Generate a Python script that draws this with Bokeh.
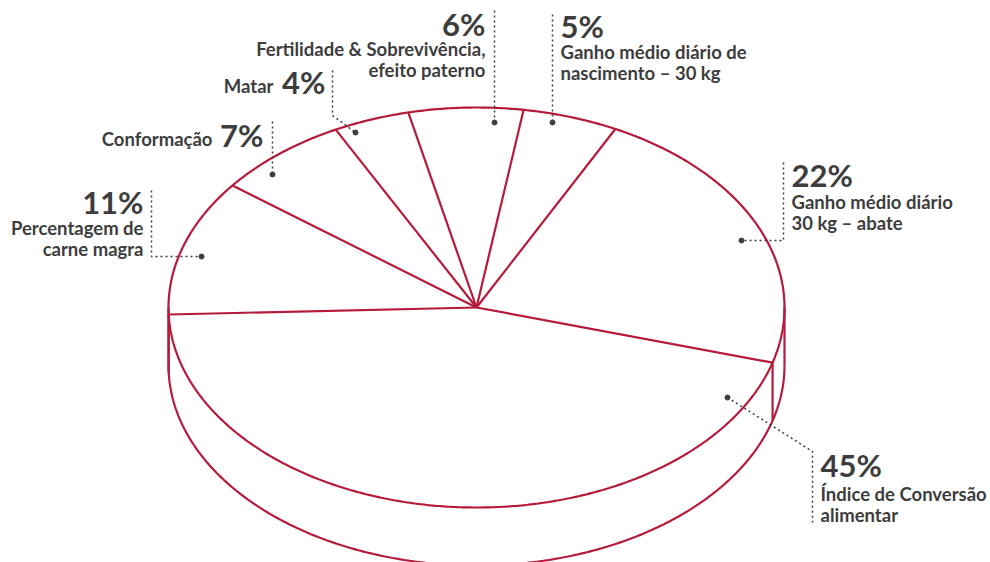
import numpy as np
from bokeh.plotting import figure
from bokeh.models import Range1d
from bokeh.core.properties import value
from bokeh.embed import file_html
from bokeh.resources import INLINE

# ---- data (slices in drawing order, counter-clockwise) ----
pct_labels = ["22%", "5%", "6%", "4%", "7%", "11%", "45%"]
shares = [22, 5, 6, 4, 7, 11, 45]
label_lines = [
    ["Ganho médio diário", "30 kg – abate"],
    ["Ganho médio diário de", "nascimento – 30 kg"],
    ["Fertilidade & Sobrevivência,", "efeito paterno"],
    ["Matar"],
    ["Conformação"],
    ["Percentagem de", "carne magra"],
    ["Índice de Conversão", "alimentar"],
]

# ---- layout / style ----
W, H = 990, 562
CX, CY = 476, 307          # pie centre (page px)
RX, RY = 308, 200          # ellipse semi-axes
DEPTH = 58                 # side wall
START = -16.0              # degrees
RED = "#B61A3A"
INK = "#3d3d3d"
FONT = value("Lato")
PCT_SIZE = "31px"
TXT_SIZE = "18.5px"
PCT_SHIFT = -12            # baseline correction for the renderer
TXT_SHIFT = -8

# label layout: pct position/alignment, text x and baselines, leader polyline, dot position
layout = [
    dict(px=791, py=186, align="left", tx=791, ty=[209, 230],
         leader=[(783, 162), (783, 240), (741, 240)], dot=(741, 240)),
    dict(px=560, py=37, align="left", tx=560, ty=[59, 80],
         leader=[(552, 14), (552, 122)], dot=(552, 122)),
    dict(px=485, py=35, align="right", tx=485, ty=[56, 77],
         leader=[(494, 10), (494, 122)], dot=(494, 122)),
    dict(px=325, py=93, align="right", tx=273, ty=[93],
         leader=[(332, 70), (332, 115), (355, 132)], dot=(355, 132)),
    dict(px=263, py=146, align="right", tx=212, ty=[146],
         leader=[(272, 121), (272, 174)], dot=(272, 174)),
    dict(px=143, py=213, align="right", tx=143, ty=[235, 256],
         leader=[(151, 190), (151, 256), (201, 256)], dot=(201, 256)),
    dict(px=820, py=476, align="left", tx=820, ty=[501, 522],
         leader=[(727, 397), (812, 451), (812, 522)], dot=(727, 397)),
]

p = figure(width=W, height=H, output_backend="svg", toolbar_location=None,
           x_range=Range1d(0, W), y_range=Range1d(H, 0),
           min_border=0)
p.axis.visible = False
p.grid.visible = False
p.outline_line_color = None
p.background_fill_color = "white"
p.border_fill_color = "white"


def pt(t_deg, dy=0.0):
    t = np.radians(t_deg)
    return CX + RX * np.cos(t), CY - RY * np.sin(t) + dy


# slice boundaries from the data
total = float(sum(shares))
bounds = [START]
for s in shares:
    bounds.append(bounds[-1] + 360.0 * s / total)

# top ellipse
tt = np.linspace(0, 360, 721)
ex, ey = pt(tt)
p.line(ex, ey, line_color=RED, line_width=2.2)

# front bottom ellipse (side wall)
tb = np.linspace(180, 360, 361)
bx, by = pt(tb, DEPTH)
p.line(bx, by, line_color=RED, line_width=2.2)

# vertical side edges: silhouette + boundaries on the front half
edge_angles = [180.0, 360.0]
for b in bounds[:-1]:
    bb = b % 360
    if 180 < bb < 360:
        edge_angles.append(bb)
for a in edge_angles:
    x0, y0 = pt(a)
    x1, y1 = pt(a, DEPTH)
    p.line([x0, x1], [y0, y1], line_color=RED, line_width=2.2)

# spokes
for b in bounds[:-1]:
    x1, y1 = pt(b)
    p.line([CX, x1], [CY, y1], line_color=RED, line_width=2.2)

# labels
for lab, lines, L in zip(pct_labels, label_lines, layout):
    lx = [q[0] for q in L["leader"]]
    ly = [q[1] for q in L["leader"]]
    p.line(lx, ly, line_color=INK, line_width=1.5, line_dash="2 3")
    p.scatter([L["dot"][0]], [L["dot"][1]], size=5, color=INK)
    p.text([L["px"]], [L["py"] + PCT_SHIFT], text=[lab], text_font=FONT,
           text_font_size=PCT_SIZE, text_font_style="bold", text_color=INK,
           text_align=L["align"], text_baseline="alphabetic")
    for line, y in zip(lines, L["ty"]):
        p.text([L["tx"]], [y + TXT_SHIFT], text=[line], text_font=FONT,
               text_font_size=TXT_SIZE, text_font_style="bold", text_color=INK,
               text_align=L["align"], text_baseline="alphabetic")

open("out.html", "w").write(file_html(p, INLINE))
